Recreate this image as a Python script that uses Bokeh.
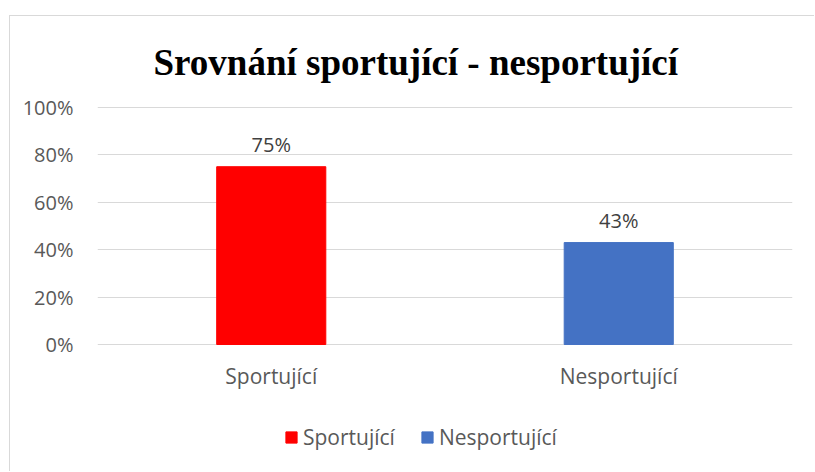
from bokeh.plotting import figure
from bokeh.models import (ColumnDataSource, LabelSet, Legend, LegendItem,
                          NumeralTickFormatter, FixedTicker, Range1d)
from bokeh.core.properties import value
from bokeh.embed import file_html
from bokeh.resources import INLINE

categories = ["Sportující", "Nesportující"]
values = [0.75, 0.43]
value_labels = ["75%", "43%"]
colors = ["#FF0000", "#4472C4"]
y_ticks = [0, 0.2, 0.4, 0.6, 0.8, 1.0]
title_text = "Srovnání sportující - nesportující"

FONT = "Open Sans"
GREY = "#595959"

src = ColumnDataSource(dict(cat=categories, val=values, lab=value_labels, col=colors,
                            base=[0] * len(categories)))

p = figure(x_range=categories, y_range=Range1d(-0.54, 1.004),
           width=805, height=456, output_backend="svg", toolbar_location=None,
           x_axis_location=None,
           min_border_left=87, min_border_right=23, min_border_top=87, min_border_bottom=0,
           margin=(15, 0, 0, 9),
           styles={"border-top": "1px solid #d9d9d9", "border-left": "1px solid #d9d9d9"})

p.title.text = title_text
p.title.align = "left"
p.title.offset = 56
p.title.text_font = "Liberation Serif"
p.title.text_font_style = "bold"
p.title.text_font_size = "37px"
p.title.text_color = "#000000"
p.title.standoff = 47

r = p.vbar(x="cat", top="val", width=0.314, color="col", source=src)

labels = LabelSet(x="cat", y="val", text="lab", source=src, text_align="center",
                  text_baseline="bottom", y_offset=9, text_font=value(FONT),
                  text_font_size="20px", text_color="#404040")
p.add_layout(labels)

cat_labels = LabelSet(x="cat", y="base", text="cat", source=src, text_align="center",
                      text_baseline="middle", y_offset=-32, text_font=value(FONT),
                      text_font_size="21px", text_color=GREY)
p.add_layout(cat_labels)

p.outline_line_color = None
p.background_fill_color = "white"
p.border_fill_color = "white"

p.xgrid.grid_line_color = None
p.ygrid.grid_line_color = "#d9d9d9"
p.ygrid.grid_line_width = 1

p.yaxis.ticker = FixedTicker(ticks=y_ticks)
p.yaxis.formatter = NumeralTickFormatter(format="0%")
ax = p.yaxis[0]
ax.axis_line_color = None
ax.major_tick_line_color = None
ax.minor_tick_line_color = None
ax.major_label_text_font = FONT
ax.major_label_text_font_size = "20px"
ax.major_label_text_color = GREY
ax.major_label_standoff = 18

legend = Legend(items=[LegendItem(label=categories[0], renderers=[r], index=0),
                       LegendItem(label=categories[1], renderers=[r], index=1)],
                orientation="horizontal", location=(187, 21),
                label_text_font=FONT, label_text_font_size="21px",
                label_text_color=GREY, glyph_width=14, glyph_height=14,
                spacing=25, label_standoff=5, border_line_color=None,
                background_fill_alpha=0, margin=0, padding=0)
p.add_layout(legend)

open("out.html", "w").write(file_html(p, INLINE))
